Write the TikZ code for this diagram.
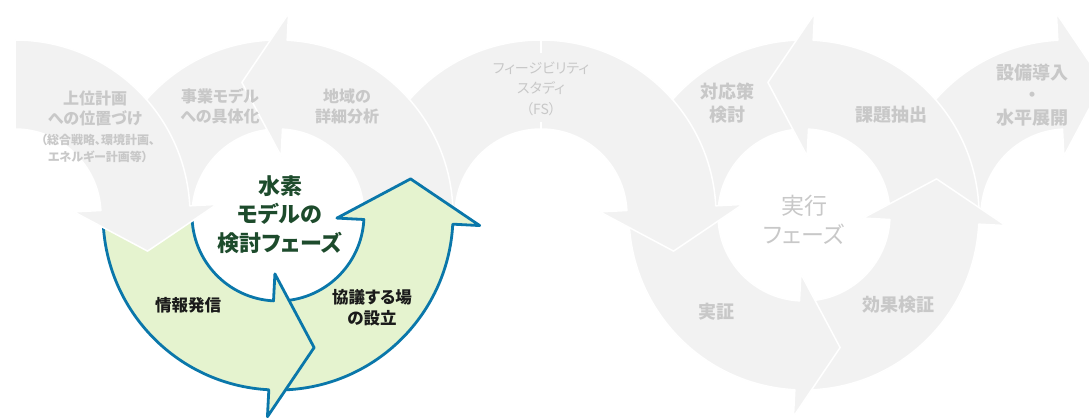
\documentclass[tikz,border=0pt]{standalone}
\usepackage{fontspec}
\newfontfamily\jp{Noto Sans CJK JP}[RawFeature=+palt]
\usetikzlibrary{calc}
\definecolor{shapegray}{HTML}{F2F2F2}
\definecolor{textgray}{HTML}{C8C8C8}
\definecolor{lightgreen}{HTML}{E5F3CF}
\definecolor{outlineblue}{HTML}{0A77AA}
\definecolor{darkgreen}{HTML}{1D4B2C}
\definecolor{nearblack}{HTML}{1A1A1A}
% center, start angle, end angle, tip direction (+90 / -90), style
\newcommand\arwshape[5]{%
  \path[#5] ($(#1)+(#2:175)$) arc[start angle=#2,end angle=#3,radius=175]
    -- ($(#1)+(#3:202)$) -- ($(#1)+(#3:130.5)+(#3#4:43)$) -- ($(#1)+(#3:59)$)
    -- ($(#1)+(#3:86)$) arc[start angle=#3,end angle=#2,radius=86] -- cycle;}
% center, start angle, end angle, style
\newcommand\bandshape[4]{%
  \path[#4] ($(#1)+(#2:175)$) arc[start angle=#2,end angle=#3,radius=175]
    -- ($(#1)+(#3:86)$) arc[start angle=#3,end angle=#2,radius=86] -- cycle;}
\tikzset{
  grayshape/.style={fill=shapegray, draw=white, line width=1.5pt, line join=round},
  greenshape/.style={fill=lightgreen, draw=outlineblue, line width=2.8pt, line join=round},
  lbl/.style={inner sep=0pt, align=center},
  graybig/.style={lbl, text=textgray, font=\jp\bfseries\fontsize{16}{20}\selectfont},
  graysmall/.style={lbl, text=textgray, font=\jp\bfseries\fontsize{12}{17}\selectfont},
  grayright/.style={lbl, text=textgray, font=\jp\bfseries\fontsize{18}{22.5}\selectfont},
  grayfs/.style={lbl, text=textgray, font=\jp\fontsize{14}{20.5}\selectfont},
  grayphase/.style={lbl, text=textgray, font=\jp\fontsize{23}{29}\selectfont},
  greenphase/.style={lbl, text=darkgreen, font=\jp\bfseries\fontsize{22}{28.5}\selectfont},
  blacktxt/.style={lbl, text=nearblack, font=\jp\bfseries\fontsize{16.5}{21}\selectfont}
}
\begin{document}
\begin{tikzpicture}[x=1pt,y=1pt]
\useasboundingbox (0,0) rectangle (1089,-419);
\clip (0,0) rectangle (1089,-419);
\coordinate (C0) at (15,-215);
\coordinate (C1) at (278,-215);
\coordinate (C2) at (541,-215);
\coordinate (C3) at (804,-215);
\coordinate (C4) at (1067,-215);
% execution phase side
\arwshape{C4}{180}{93}{-90}{grayshape}
\bandshape{C3}{90}{180}{grayshape}
\arwshape{C3}{0}{87}{+90}{grayshape}
\arwshape{C3}{270}{357}{+90}{grayshape}
\arwshape{C3}{180}{267}{+90}{grayshape}
% feasibility study
\arwshape{C2}{180}{3}{-90}{grayshape}
\draw[white, line width=1.5pt] ($(C2)+(90:176)$) -- ($(C2)+(90:162)$);
\draw[white, line width=1.5pt] ($(C2)+(90:93)$) -- ($(C2)+(90:85)$);
% hydrogen model study phase
\bandshape{C1}{90}{180}{grayshape}
\arwshape{C1}{0}{87}{+90}{grayshape}
\arwshape{C1}{270}{357}{+90}{greenshape}
\arwshape{C1}{180}{267}{+90}{greenshape}
% upper plan
\arwshape{C0}{90}{3}{-90}{grayshape}
% labels
\node[graybig] (t1) at (95,-108) {上位計画\\への位置づけ};
\node[graysmall] (t1s) at (98,-148.5) {（総合戦略、環境計画、\\エネルギー計画等）};
\node[graybig] (t2) at (220,-106) {事業モデル\\への具体化};
\node[graybig] (t3) at (347,-106) {地域の\\詳細分析};
\node[grayfs] (t4) at (541,-88.5) {フィージビリティ\\スタディ\\（FS）};
\node[grayright] (t5) at (727,-103) {対応策\\検討};
\node[grayright] (t6) at (891,-115) {課題抽出};
\node[grayright] (t7) at (1032,-95) {設備導入\\・\\水平展開};
\node[grayphase] (t8) at (804,-219.5) {実行\\フェーズ};
\node[grayright] (t9) at (716,-312) {実証};
\node[grayright] (t10) at (898,-305) {効果検証};
\node[greenphase] (t11) at (280,-214.5) {水素\\モデルの\\検討フェーズ};
\node[blacktxt] (t12) at (188,-305) {情報発信};
\node[blacktxt] (t13) at (372,-307.5) {協議する場\\の設立};
\end{tikzpicture}
\end{document}
